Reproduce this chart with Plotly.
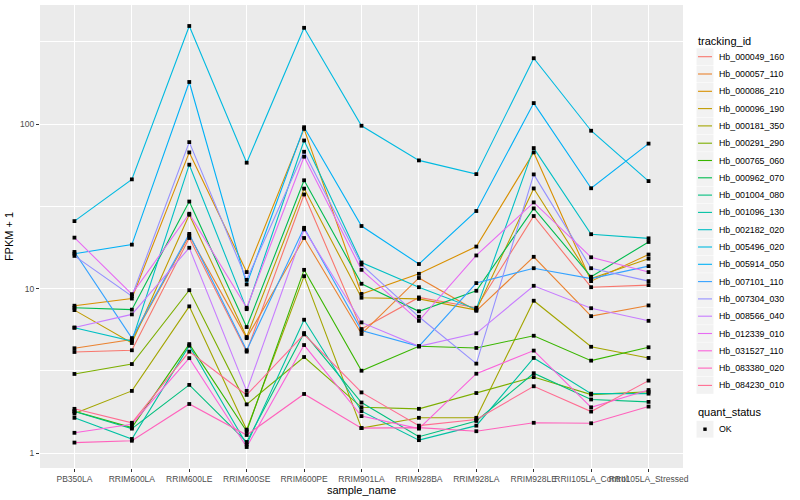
import plotly.graph_objects as go

samples = ["PB350LA", "RRIM600LA", "RRIM600LE", "RRIM600SE", "RRIM600PE", "RRIM901LA",
           "RRIM928BA", "RRIM928LA", "RRIM928LE", "RRII105LA_Control", "RRII105LA_Stressed"]

tracking_ids = ["Hb_000049_160", "Hb_000057_110", "Hb_000086_210", "Hb_000096_190", "Hb_000181_350",
                "Hb_000291_290", "Hb_000765_060", "Hb_000962_070", "Hb_001004_080", "Hb_001096_130",
                "Hb_002182_020", "Hb_005496_020", "Hb_005914_050", "Hb_007101_110", "Hb_007304_030",
                "Hb_008566_040", "Hb_012339_010", "Hb_031527_110", "Hb_083380_020", "Hb_084230_010"]

colors = ["#F8766D", "#EA8331", "#D89000", "#C09B00", "#A3A500", "#7CAE00", "#39B600", "#00BB4E",
          "#00BF7D", "#00C1A3", "#00BFC4", "#00BAE0", "#00B0F6", "#35A2FF", "#9590FF", "#C77CFF",
          "#E76BF3", "#FA62DB", "#FF62BC", "#FF6C91"]

quant_status = ["OK"]

# FPKM + 1 per gene, in sample order
Hb_000049_160 = [4.12, 4.22, 20.3, 4.14, 37.3, 5.68, 8.84, 7.65, 27.6, 10.2, 10.5]
Hb_000057_110 = [4.34, 4.9, 21.0, 5.0, 20.3, 5.3, 11.6, 7.33, 15.6, 6.8, 7.9]
Hb_000086_210 = [7.87, 8.7, 67.2, 12.6, 93.4, 9.28, 12.3, 18.0, 67.2, 11.1, 16.1]
Hb_000096_190 = [7.4, 4.67, 28.1, 5.08, 40.5, 8.8, 8.66, 7.4, 40.6, 11.5, 15.2]
Hb_000181_350 = [1.74, 2.39, 7.8, 1.39, 11.9, 1.42, 1.64, 1.64, 8.44, 4.43, 3.79]
Hb_000291_290 = [3.03, 3.48, 9.78, 1.98, 3.84, 1.9, 1.86, 2.32, 2.9, 2.27, 2.36]
Hb_000765_060 = [1.80, 1.43, 4.6, 1.36, 13.0, 3.17, 4.46, 4.36, 5.17, 3.65, 4.4]
Hb_000962_070 = [7.65, 7.45, 33.8, 5.84, 45.5, 10.7, 7.28, 9.7, 30.7, 11.8, 19.2]
Hb_001004_080 = [1.79, 1.41, 2.6, 1.17, 5.37, 2.03, 1.26, 1.57, 3.06, 2.12, 2.05]
Hb_001096_130 = [1.64, 1.22, 4.5, 1.13, 6.47, 1.80, 1.20, 1.47, 3.79, 2.30, 2.30]
Hb_002182_020 = [5.78, 4.8, 56.6, 7.5, 79.4, 14.4, 10.2, 7.5, 71.4, 21.4, 20.2]
Hb_005496_020 = [25.7, 46.1, 394.0, 58.2, 384.0, 97.6, 60.1, 49.6, 251.0, 91.0, 45.0]
Hb_005914_050 = [16.3, 18.5, 180.0, 10.6, 95.6, 24.0, 14.1, 29.6, 134.0, 40.7, 76.0]
Hb_007101_110 = [16.7, 5.0, 21.5, 4.22, 23.4, 5.57, 4.46, 10.8, 13.3, 11.5, 13.7]
Hb_007304_030 = [15.8, 9.0, 77.6, 11.3, 67.8, 14.0, 6.74, 3.5, 49.4, 13.3, 11.1]
Hb_008566_040 = [5.8, 6.97, 17.7, 2.39, 22.9, 6.23, 4.46, 5.35, 10.4, 7.6, 6.37]
Hb_012339_010 = [20.4, 9.25, 28.5, 7.65, 63.3, 13.0, 6.37, 15.9, 33.4, 15.5, 12.6]
Hb_031527_110 = [1.33, 1.50, 3.78, 1.09, 4.54, 1.68, 1.41, 3.04, 4.2, 1.9, 2.42]
Hb_083380_020 = [1.16, 1.19, 1.99, 1.29, 2.29, 1.42, 1.43, 1.36, 1.53, 1.52, 1.92]
Hb_084230_010 = [1.86, 1.53, 4.14, 2.26, 5.27, 2.34, 1.47, 1.60, 2.55, 1.79, 2.76]

series = [Hb_000049_160, Hb_000057_110, Hb_000086_210, Hb_000096_190, Hb_000181_350,
          Hb_000291_290, Hb_000765_060, Hb_000962_070, Hb_001004_080, Hb_001096_130,
          Hb_002182_020, Hb_005496_020, Hb_005914_050, Hb_007101_110, Hb_007304_030,
          Hb_008566_040, Hb_012339_010, Hb_031527_110, Hb_083380_020, Hb_084230_010]

y_ticks = [1, 10, 100]
y_minor = [3.1623, 31.623, 316.23]

FONT = "Liberation Sans"
W, H = 800, 500
ML, MR, MT, MB = 40, 117, 5, 32
PW, PH = W - ML - MR, H - MT - MB


def px(xpix):
    return (xpix - ML) / PW


def py(ypix):
    return (H - MB - ypix) / PH


fig = go.Figure()

for name, vals, col in zip(tracking_ids, series, colors):
    fig.add_trace(go.Scatter(x=samples, y=vals, mode="lines", name=name,
                             line=dict(color=col, width=1.1), showlegend=False,
                             hoverinfo="skip"))

all_x = [s for vals in series for s in samples]
all_y = [v for vals in series for v in vals]
fig.add_trace(go.Scatter(x=all_x, y=all_y, mode="markers", name="OK", showlegend=False,
                         marker=dict(symbol="square", size=3.8, color="black"),
                         hoverinfo="skip"))

# ggplot-style legend drawn in paper space
shapes = []
annotations = []
KEY_L, KEY_R = 696.5, 713.5
TEXT_X = 717
annotations.append(dict(text="tracking_id", x=px(696), y=py(40.7), xref="paper", yref="paper",
                        xanchor="left", yanchor="middle", showarrow=False,
                        font=dict(size=11, color="black", family=FONT)))
for i, (name, col) in enumerate(zip(tracking_ids, colors)):
    cy = 56.7 + 17.3 * i
    shapes.append(dict(type="rect", xref="paper", yref="paper",
                       x0=px(KEY_L), x1=px(KEY_R), y0=py(cy + 8.4), y1=py(cy - 8.4),
                       fillcolor="#F2F2F2", line=dict(width=0), layer="above"))
    shapes.append(dict(type="line", xref="paper", yref="paper",
                       x0=px(KEY_L + 1.5), x1=px(KEY_R - 1.5), y0=py(cy), y1=py(cy),
                       line=dict(color=col, width=1.1), layer="above"))
    annotations.append(dict(text=name, x=px(TEXT_X), y=py(cy), xref="paper", yref="paper",
                            xanchor="left", yanchor="middle", showarrow=False,
                            font=dict(size=8.8, color="black", family=FONT)))

annotations.append(dict(text="quant_status", x=px(696), y=py(412.3), xref="paper", yref="paper",
                        xanchor="left", yanchor="middle", showarrow=False,
                        font=dict(size=11, color="black", family=FONT)))
for j, status in enumerate(quant_status):
    cy = 429.2 + 17.3 * j
    shapes.append(dict(type="rect", xref="paper", yref="paper",
                       x0=px(KEY_L), x1=px(KEY_R), y0=py(cy + 8.4), y1=py(cy - 8.4),
                       fillcolor="#F2F2F2", line=dict(width=0), layer="above"))
    shapes.append(dict(type="rect", xref="paper", yref="paper",
                       x0=px(703.3), x1=px(706.7), y0=py(cy + 1.7), y1=py(cy - 1.7),
                       fillcolor="black", line=dict(width=0), layer="above"))
    annotations.append(dict(text=status, x=px(TEXT_X), y=py(cy), xref="paper", yref="paper",
                            xanchor="left", yanchor="middle", showarrow=False,
                            font=dict(size=8.8, color="black", family=FONT)))

fig.update_layout(
    width=W, height=H,
    margin=dict(l=ML, r=MR, t=MT, b=MB),
    paper_bgcolor="white", plot_bgcolor="#EBEBEB",
    font=dict(family=FONT, size=10, color="black"),
    showlegend=False,
    shapes=shapes, annotations=annotations,
)

fig.update_xaxes(
    type="category", categoryorder="array", categoryarray=samples,
    range=[-0.6, 10.6], tickangle=0,
    showgrid=True, gridcolor="white", gridwidth=1.1,
    ticks="outside", ticklen=3, tickcolor="#333333", tickwidth=1,
    tickfont=dict(size=8.5, color="#4D4D4D"),
    title=dict(text="sample_name", font=dict(size=11), standoff=3),
    zeroline=False, showline=False,
)
fig.update_yaxes(
    type="log", range=[-0.09, 2.723],
    tickmode="array", tickvals=y_ticks, ticktext=[str(t) for t in y_ticks],
    showgrid=True, gridcolor="white", gridwidth=1.1,
    minor=dict(tickmode="array", tickvals=y_minor, showgrid=True, gridcolor="white", gridwidth=0.5, ticks=""),
    ticks="outside", ticklen=3, tickcolor="#333333", tickwidth=1,
    tickfont=dict(size=8.5, color="#4D4D4D"),
    title=dict(text="FPKM + 1", font=dict(size=11), standoff=4),
    zeroline=False, showline=False,
)

fig.write_html("out.html", config={"displayModeBar": False},
               post_script="document.body.style.margin='0px';")
